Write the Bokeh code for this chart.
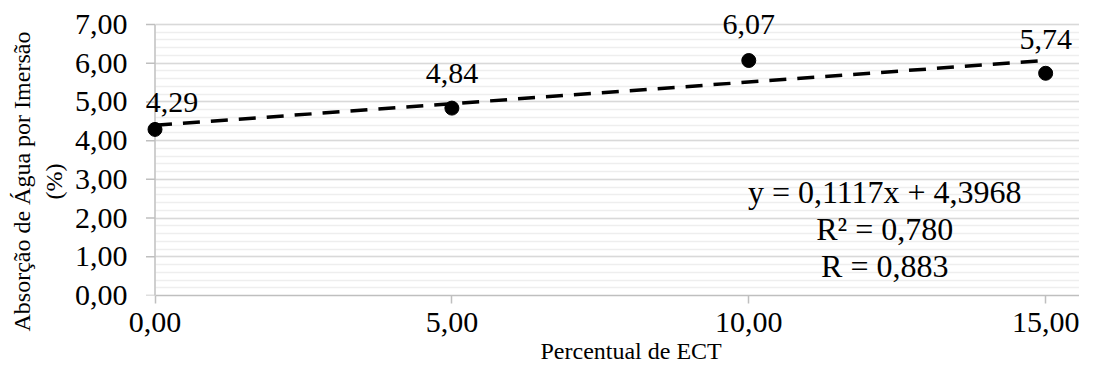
from bokeh.plotting import figure
from bokeh.models import Range1d, SingleIntervalTicker, FixedTicker, Label, ColumnDataSource, Title
from bokeh.core.properties import value
from bokeh.embed import file_html
from bokeh.resources import INLINE

# ---- data ----
x_vals = [0, 5, 10, 15]
y_vals = [4.29, 4.84, 6.07, 5.74]
point_labels = ["4,29", "4,84", "6,07", "5,74"]
slope = 0.1117
intercept = 4.3968
r2_text = "0,780"
r_text = "0,883"
x_ticks = [0, 5, 10, 15]
y_ticks = [0, 1, 2, 3, 4, 5, 6, 7]
x_title = "Percentual de ECT"
y_title_lines = ["Absorção de Água por Imersão", "(%)"]

def fmt(v):
    return f"{v:.2f}".replace(".", ",")

FONT = "Liberation Serif"
AXIS_GRAY = "#bfbfbf"
X_START = -0.16
X_END = 15.57
PX_PER_X = 59.4

p = figure(width=1079, height=367, output_backend="svg", toolbar_location=None,
           x_range=Range1d(X_START, X_END), y_range=Range1d(0, 7.62),
           min_border_left=145, min_border_top=0, min_border_bottom=72, min_border_right=0)
p.outline_line_color = None
p.background_fill_color = "white"

# grid
p.xgrid.grid_line_color = None
p.yaxis.ticker = SingleIntervalTicker(interval=1, num_minor_ticks=5)
p.ygrid.grid_line_color = "#d9d9d9"
p.ygrid.grid_line_width = 1.5
p.ygrid.minor_grid_line_color = "#eeeeee"
p.ygrid.minor_grid_line_width = 1.5
p.ygrid.bounds = (0, 7)
p.ygrid.cross_bounds = (0, X_END)

# axes
p.xaxis.ticker = FixedTicker(ticks=x_ticks)
p.xaxis.major_label_overrides = {t: fmt(t) for t in x_ticks}
p.yaxis.major_label_overrides = {t: fmt(t) for t in y_ticks}
p.yaxis.bounds = (0, 7)
p.xaxis.bounds = (0, X_END)
for ax in (p.xaxis, p.yaxis):
    ax.axis_line_color = AXIS_GRAY
    ax.axis_line_width = 1.5
    ax.major_tick_line_color = AXIS_GRAY
    ax.major_tick_line_width = 1.5
    ax.major_tick_in = 0
    ax.minor_tick_in = 0
    ax.minor_tick_out = 0
    ax.major_label_text_font = FONT
    ax.major_label_text_font_size = "30px"
    ax.major_label_text_color = "black"
# the y axis line sits at x = 0 (drawn below), the panel axis only carries labels
p.yaxis.axis_line_color = None
p.yaxis.major_tick_line_color = None
p.yaxis.major_tick_out = 0
p.yaxis.major_label_standoff = 18
p.xaxis.major_tick_out = 8
p.xaxis.major_label_standoff = 9

# y axis line and outward ticks at x = 0
p.segment(x0=[0], y0=[y_ticks[0]], x1=[0], y1=[y_ticks[-1]], line_color=AXIS_GRAY, line_width=1.5)
tick_len = 9 / PX_PER_X
p.segment(x0=[-tick_len] * len(y_ticks), y0=y_ticks, x1=[0] * len(y_ticks), y1=y_ticks,
          line_color=AXIS_GRAY, line_width=1.5)

# trend line
tx = [x_vals[0], x_vals[-1]]
ty = [intercept + slope * v for v in tx]
p.line(tx, ty, line_color="black", line_width=3.5, line_dash="17 11")

# points
p.scatter(x_vals, y_vals, size=14, color="black")

# data labels
src = ColumnDataSource(dict(x=x_vals, y=y_vals, t=point_labels,
                            xo=[17, 0, 0, 0], yo=[-27, -35, -36, -34]))
p.text("x", "y", text="t", source=src, x_offset="xo", y_offset="yo",
       text_font=value(FONT), text_font_size="30px", text_color="black",
       text_align="center", text_baseline="middle")

# equation labels
eq_lines = [f"y = {slope:.4f}x + {intercept:.4f}".replace(".", ","),
            f"R² = {r2_text}", f"R = {r_text}"]
for txt, yy in zip(eq_lines, [2.67, 1.71, 0.75]):
    p.add_layout(Label(x=12.29, y=yy, text=txt, text_font=FONT, text_font_size="32px",
                       text_color="black", text_align="center", text_baseline="middle"))

# axis titles
p.add_layout(Title(text=y_title_lines[1], align="left", offset=96, standoff=9,
                   text_font=FONT, text_font_size="24px", text_font_style="normal",
                   text_color="black"), "left")
p.add_layout(Title(text=y_title_lines[0], align="left", offset=-36, standoff=0,
                   text_font=FONT, text_font_size="24px", text_font_style="normal",
                   text_color="black"), "left")
p.add_layout(Title(text=x_title, align="left", offset=395, standoff=2,
                   text_font=FONT, text_font_size="24px", text_font_style="normal",
                   text_color="black"), "below")

open("out.html", "w").write(file_html(p, INLINE))
